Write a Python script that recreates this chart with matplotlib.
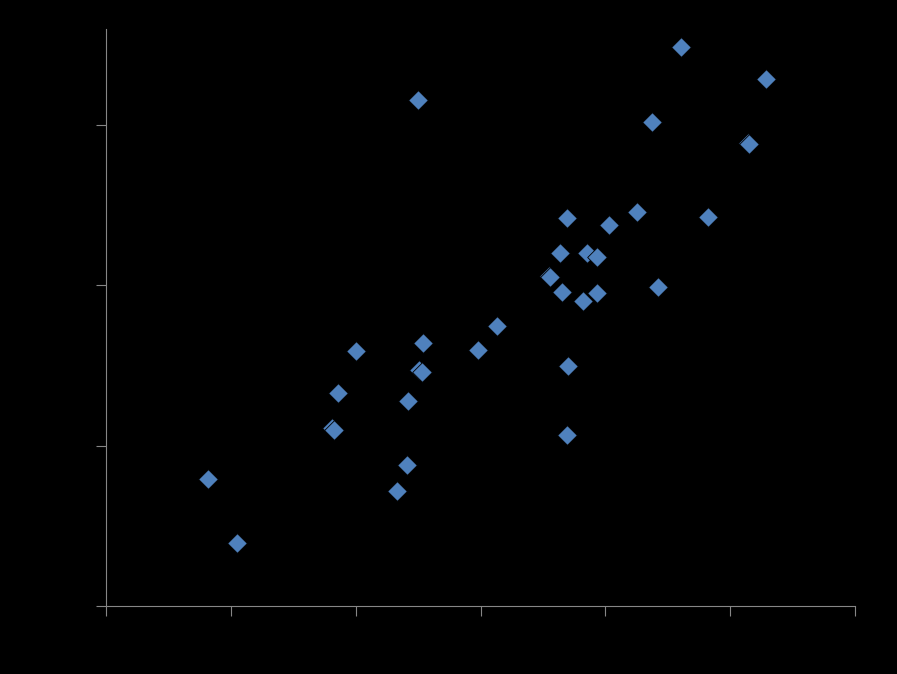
import matplotlib
matplotlib.use('Agg')
import matplotlib.pyplot as plt

## values (x axis 0..6, y axis 0..3.6)
x_vals = [0.82, 1.05, 1.81, 1.83, 1.86, 2.00, 2.33, 2.41, 2.42, 2.51, 2.53,
          2.54, 2.50, 2.98, 3.13, 3.55, 3.56, 3.64, 3.65, 3.69, 3.69, 3.70,
          3.82, 3.85, 3.93, 3.93, 4.03, 4.25, 4.37, 4.42, 4.61, 4.82, 5.14,
          5.15, 5.29]
y_vals = [0.79, 0.39, 1.11, 1.10, 1.33, 1.59, 0.72, 0.88, 1.28, 1.47, 1.46,
          1.64, 3.16, 1.60, 1.75, 2.06, 2.05, 2.20, 1.96, 2.42, 1.07, 1.50,
          1.90, 2.20, 1.95, 2.18, 2.38, 2.46, 3.02, 1.99, 3.49, 2.43, 2.89,
          2.88, 3.29]
x_ticks = [0, 1, 2, 3, 4, 5, 6]
y_ticks = [0, 1, 2, 3]

axis_grey = '#868686'

fig = plt.figure(figsize=(8.97, 6.74), dpi=100, facecolor='black')
ax = fig.add_axes([106/897, 68/674, 749/897, 577/674], facecolor='black')

ax.scatter(x_vals, y_vals, marker='D', s=100, color='#4F81BD',
           edgecolors='black', linewidths=0.6, zorder=3)

ax.set_xlim(0, 6)
ax.set_ylim(0, 3.6)
ax.set_xticks(x_ticks)
ax.set_yticks(y_ticks)
ax.set_xticklabels([])
ax.set_yticklabels([])
ax.tick_params(direction='out', length=7, width=0.8, color=axis_grey)

for side in ['top', 'right']:
    ax.spines[side].set_visible(False)
for side in ['left', 'bottom']:
    ax.spines[side].set_color(axis_grey)
    ax.spines[side].set_linewidth(0.8)

plt.savefig('out.png', dpi=100, facecolor='black')
